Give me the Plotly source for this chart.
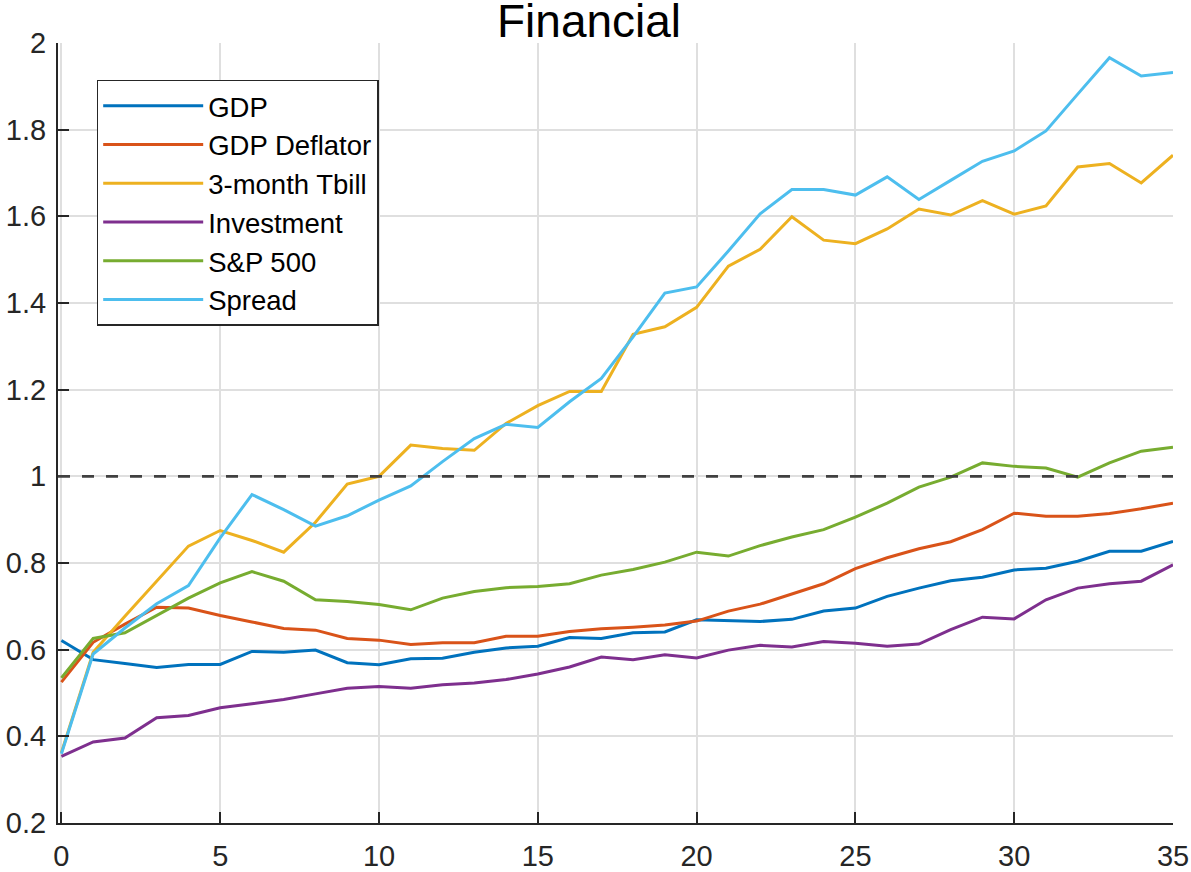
import plotly.graph_objects as go

horizon = list(range(36))

gdp = [0.621, 0.577, 0.568, 0.559, 0.566, 0.566, 0.596, 0.594, 0.599, 0.570, 0.565, 0.579,
       0.580, 0.594, 0.604, 0.608, 0.628, 0.626, 0.639, 0.641, 0.669, 0.667, 0.665, 0.670,
       0.689, 0.696, 0.723, 0.742, 0.759, 0.767, 0.784, 0.788, 0.804, 0.827, 0.827, 0.850]

gdp_deflator = [0.525, 0.617, 0.659, 0.698, 0.696, 0.679, 0.664, 0.649, 0.645, 0.626, 0.622, 0.612,
                0.616, 0.616, 0.631, 0.631, 0.642, 0.648, 0.652, 0.657, 0.666, 0.689, 0.705, 0.728,
                0.752, 0.787, 0.812, 0.833, 0.849, 0.877, 0.915, 0.908, 0.908, 0.914, 0.925, 0.938]

tbill = [0.362, 0.594, 0.677, 0.758, 0.839, 0.875, 0.852, 0.825, 0.894, 0.982, 1.000, 1.072,
         1.064, 1.060, 1.122, 1.163, 1.196, 1.196, 1.328, 1.345, 1.390, 1.485, 1.524, 1.599,
         1.545, 1.537, 1.571, 1.617, 1.603, 1.636, 1.605, 1.624, 1.714, 1.722, 1.677, 1.741]

investment = [0.354, 0.387, 0.396, 0.443, 0.448, 0.466, 0.475, 0.485, 0.498, 0.511, 0.515, 0.511,
              0.519, 0.523, 0.531, 0.544, 0.560, 0.583, 0.577, 0.588, 0.581, 0.599, 0.610, 0.606,
              0.619, 0.615, 0.608, 0.613, 0.646, 0.675, 0.671, 0.715, 0.742, 0.752, 0.758, 0.796]

sp500 = [0.535, 0.626, 0.639, 0.679, 0.719, 0.754, 0.780, 0.758, 0.715, 0.711, 0.704, 0.692,
         0.719, 0.734, 0.743, 0.746, 0.752, 0.772, 0.785, 0.802, 0.825, 0.816, 0.840, 0.860,
         0.877, 0.906, 0.938, 0.975, 0.998, 1.031, 1.023, 1.019, 0.998, 1.031, 1.058, 1.067]

spread = [0.360, 0.590, 0.650, 0.706, 0.748, 0.858, 0.958, 0.923, 0.885, 0.909, 0.945, 0.978,
          1.034, 1.087, 1.120, 1.113, 1.172, 1.226, 1.322, 1.423, 1.437, 1.520, 1.606, 1.662,
          1.662, 1.649, 1.691, 1.639, 1.683, 1.727, 1.751, 1.797, 1.882, 1.966, 1.924, 1.932]

series_names = ["GDP", "GDP Deflator", "3-month Tbill", "Investment", "S&P 500", "Spread"]
series_values = [gdp, gdp_deflator, tbill, investment, sp500, spread]
series_colors = ["#0072BD", "#D95319", "#EDB120", "#7E2F8E", "#77AC30", "#4DBEEE"]

reference_level = 1.0
chart_title = "Financial"

y_tickvals = [0.2, 0.4, 0.6, 0.8, 1.0, 1.2, 1.4, 1.6, 1.8, 2.0]
y_ticktext = ["0.2", "0.4", "0.6", "0.8", "1", "1.2", "1.4", "1.6", "1.8", "2"]
x_tickvals = [0, 5, 10, 15, 20, 25, 30, 35]
x_ticktext = ["0", "5", "10", "15", "20", "25", "30", "35"]

FONT = "Liberation Sans, Arial, Helvetica, sans-serif"
AXIS_COLOR = "#262626"
GRID_COLOR = "#dfdfdf"

fig = go.Figure()

for i, (name, vals, col) in enumerate(zip(series_names, series_values, series_colors)):
    fig.add_trace(go.Scatter(
        x=horizon, y=vals, mode="lines", name=name,
        line=dict(color=col, width=3),
        legendgroup=f"g{i}",
    ))

fig.add_hline(y=reference_level, line=dict(color="#404040", width=2.8, dash="12px,12px"))

fig.add_annotation(
    text=chart_title, xref="paper", yref="paper", x=0.4762, y=1.0285,
    xanchor="center", yanchor="middle", showarrow=False,
    font=dict(family=FONT, size=46, color="black"),
)

fig.update_layout(
    width=1191, height=872,
    margin=dict(l=58, r=18, t=43, b=49, autoexpand=False),
    paper_bgcolor="white", plot_bgcolor="white",
    font=dict(family=FONT, size=28, color=AXIS_COLOR),
    showlegend=True,
    legend=dict(
        x=0.0347, y=0.9526, xanchor="left", yanchor="top",
        bgcolor="white", bordercolor=AXIS_COLOR, borderwidth=1.5,
        font=dict(family=FONT, size=27.5, color="black"),
        tracegroupgap=0, itemwidth=100,
    ),
    xaxis=dict(
        range=[-0.107, 35], tickvals=x_tickvals, ticktext=x_ticktext,
        showgrid=True, gridcolor=GRID_COLOR, gridwidth=1.5,
        zeroline=False, showline=True, linecolor=AXIS_COLOR, linewidth=2,
        ticks="inside", ticklen=11, tickwidth=2, tickcolor=AXIS_COLOR,
        tickfont=dict(family=FONT, size=29, color=AXIS_COLOR),
        automargin=False, ticklabelstandoff=6,
    ),
    yaxis=dict(
        range=[0.2, 2.0], tickvals=y_tickvals, ticktext=y_ticktext,
        showgrid=True, gridcolor=GRID_COLOR, gridwidth=1.5,
        zeroline=False, showline=True, linecolor=AXIS_COLOR, linewidth=2,
        ticks="inside", ticklen=11, tickwidth=2, tickcolor=AXIS_COLOR,
        tickfont=dict(family=FONT, size=29, color=AXIS_COLOR),
        automargin=False, ticklabelstandoff=4,
    ),
)

# remove the default page margin so the 1191x872 figure fills the window exactly
fig.write_html(
    "out.html",
    config={"displayModeBar": False},
    post_script="document.body.style.margin='0px';document.body.style.overflow='hidden';",
)
